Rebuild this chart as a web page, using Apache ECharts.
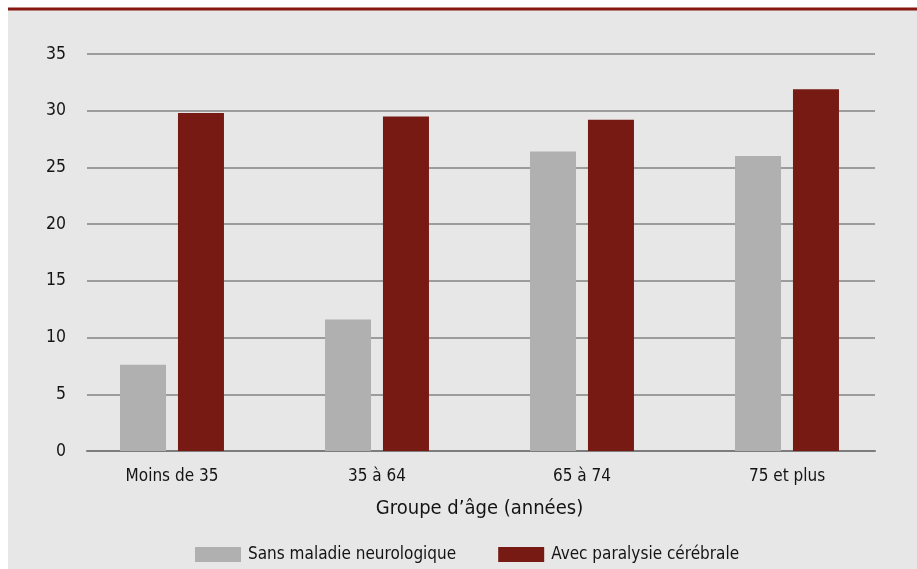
<!DOCTYPE html>
<html>
<head>
<meta charset="utf-8">
<script src="https://cdn.jsdelivr.net/npm/echarts@6/dist/echarts.min.js"></script>
<style>
  html, body { margin: 0; padding: 0; background: #ffffff; }
  #chart { width: 917px; height: 569px; }
</style>
</head>
<body>
<div id="chart"></div>
<script>
// Age groups and the share (%) in each group
const categories = ['Moins de 35', '35 à 64', '65 à 74', '75 et plus'];
const sansMaladie = [7.6, 11.6, 26.4, 26.0];
const avecParalysie = [29.8, 29.5, 29.2, 31.9];
const seriesNames = ['Sans maladie neurologique', 'Avec paralysie cérébrale'];
const yTicks = { min: 0, max: 35, interval: 5 };

const FONT = '"Liberation Sans Narrow", "DejaVu Sans Condensed", "Open Sans", sans-serif';
const TEXT = '#141414';

const chart = echarts.init(document.getElementById('chart'), null, { renderer: 'canvas' });

chart.setOption({
  backgroundColor: '#ffffff',
  animation: false,
  textStyle: { fontFamily: FONT },
  graphic: [
    // panel background and the dark red rule across the top
    { type: 'rect', z: -10, shape: { x: 8, y: 9, width: 909, height: 560 }, style: { fill: '#e6e7e6' } },
    { type: 'rect', z: -9, shape: { x: 8, y: 7.5, width: 909, height: 3 }, style: { fill: '#861610' } }
  ],
  legend: {
    top: 541,
    left: 190,
    itemWidth: 46,
    itemHeight: 15,
    itemGap: 42,
    icon: 'rect',
    data: seriesNames,
    textStyle: { fontFamily: FONT, fontSize: 17, color: TEXT, padding: [0, 0, 0, 2] }
  },
  grid: [
    // gridlines and value labels
    { left: 87, right: 42, top: 54, bottom: 118 },
    // bars and category labels
    { left: 69.5, right: 27.5, top: 54, bottom: 118 }
  ],
  xAxis: [
    {
      type: 'category',
      gridIndex: 0,
      data: categories,
      axisLine: { show: true, lineStyle: { color: '#7c7c7c', width: 2 } },
      axisTick: { show: false },
      axisLabel: { show: false }
    },
    {
      type: 'category',
      gridIndex: 1,
      data: categories,
      axisLine: { show: false },
      axisTick: { show: false },
      axisLabel: { margin: 17, fontSize: 17, color: TEXT, fontFamily: FONT },
      name: 'Groupe d’âge (années)',
      nameLocation: 'middle',
      nameGap: 48,
      nameTextStyle: { fontSize: 20, color: TEXT, fontFamily: FONT }
    }
  ],
  yAxis: [
    {
      type: 'value',
      gridIndex: 0,
      min: yTicks.min,
      max: yTicks.max,
      interval: yTicks.interval,
      axisLine: { show: false },
      axisTick: { show: false },
      axisLabel: { margin: 21, fontSize: 17.5, color: TEXT, fontFamily: FONT },
      splitLine: { lineStyle: { color: '#9c9c9c', width: 2 } }
    },
    {
      type: 'value',
      gridIndex: 1,
      min: yTicks.min,
      max: yTicks.max,
      interval: yTicks.interval,
      show: false,
      splitLine: { show: false }
    }
  ],
  series: [
    {
      name: seriesNames[0],
      type: 'bar',
      xAxisIndex: 1,
      yAxisIndex: 1,
      data: sansMaladie,
      barWidth: 46,
      barGap: '26%',
      itemStyle: { color: '#b0b0b0' },
      z: 3
    },
    {
      name: seriesNames[1],
      type: 'bar',
      xAxisIndex: 1,
      yAxisIndex: 1,
      data: avecParalysie,
      barWidth: 46,
      barGap: '26%',
      itemStyle: { color: '#771a14' },
      z: 3
    }
  ]
});
</script>
</body>
</html>
